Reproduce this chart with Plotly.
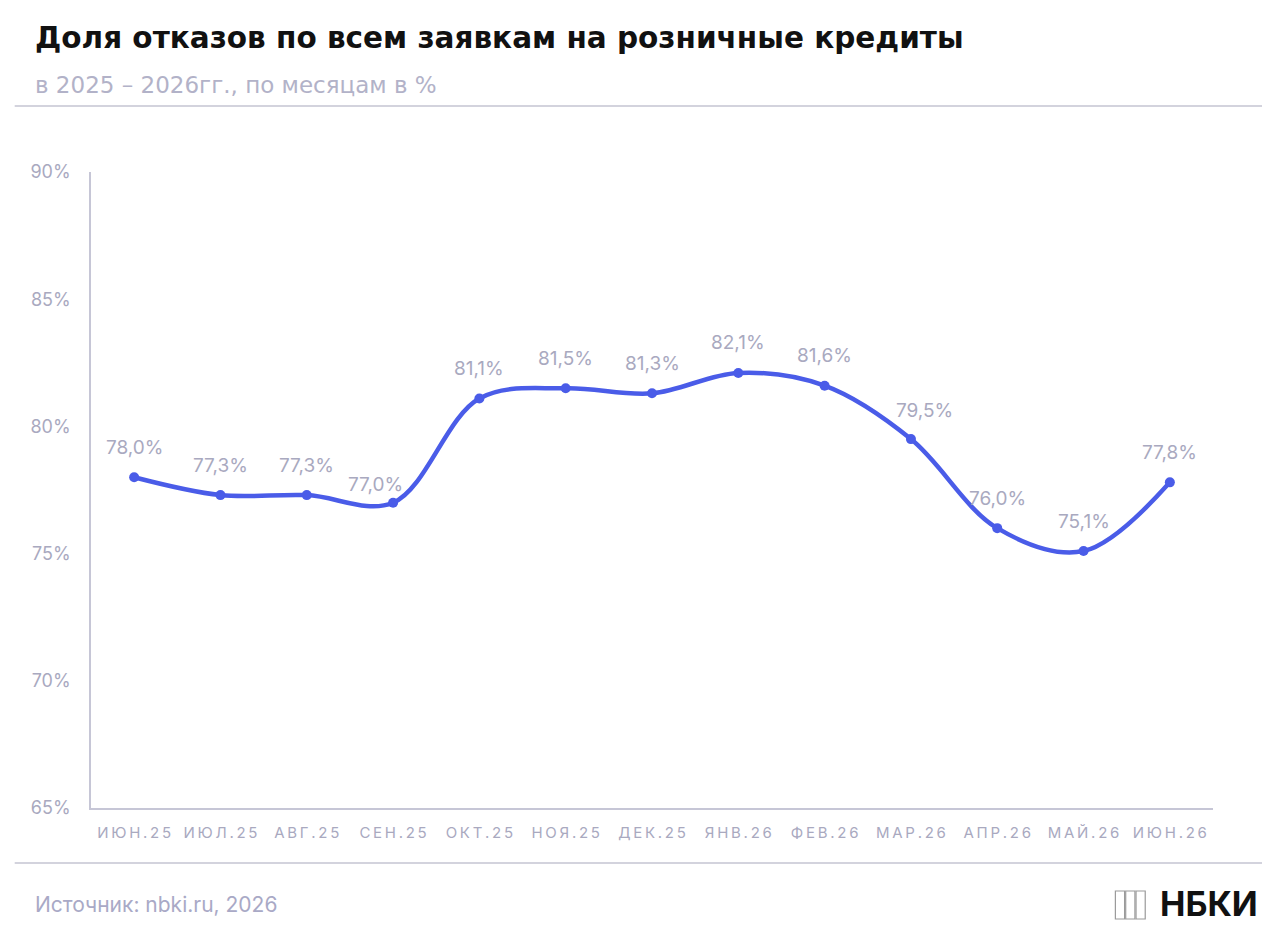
import plotly.graph_objects as go

# данные
months = ["ИЮН.25", "ИЮЛ.25", "АВГ.25", "СЕН.25", "ОКТ.25", "НОЯ.25", "ДЕК.25",
          "ЯНВ.26", "ФЕВ.26", "МАР.26", "АПР.26", "МАЙ.26", "ИЮН.26"]
reject_share = [78.0, 77.3, 77.3, 77.0, 81.1, 81.5, 81.3, 82.1, 81.6, 79.5, 76.0, 75.1, 77.8]
y_ticks = [65, 70, 75, 80, 85, 90]

LINE = "#4a5ce8"
GREY = "#a9a9bf"
AXIS = "#c6c6d6"

# подписи, которые в оригинале сдвинуты в сторону (пиксели)
label_nudge = {"СЕН.25": (-18, 18), "МАР.26": (14, 29)}

# разреженные подписи месяцев (как в оригинале)
tick_text = ["\u2009".join(m) for m in months]

fig = go.Figure()
fig.add_trace(go.Scatter(
    x=months, y=reject_share, mode="lines+markers",
    line=dict(color=LINE, width=4.5, shape="spline", smoothing=1.0),
    marker=dict(color=LINE, size=10),
    hoverinfo="skip", showlegend=False,
))

# подписи значений
for m, v in zip(months, reject_share):
    dx, dy = label_nudge.get(m, (0, 30))
    fig.add_annotation(x=m, y=v, text=f"{v:.1f}%".replace(".", ","),
                       showarrow=False, xshift=dx, yshift=dy,
                       font=dict(family="Inter", size=19, color=GREY))

fig.update_xaxes(
    type="category", range=[-0.5, len(months) - 0.5],
    tickvals=months, ticktext=tick_text,
    showline=True, linecolor=AXIS, linewidth=1.5, showgrid=False,
    ticks="", tickfont=dict(family="Inter", size=15, color=GREY),
    ticklabelstandoff=10, zeroline=False,
)
fig.update_yaxes(
    range=[65, 90], tickvals=y_ticks, ticktext=[f"{t}%" for t in y_ticks],
    showline=True, linecolor=AXIS, linewidth=1.5, showgrid=False,
    ticks="", tickfont=dict(family="Inter", size=18, color=GREY),
    ticklabelstandoff=15, zeroline=False,
)

# заголовок и подзаголовок
fig.add_annotation(xref="paper", yref="paper", x=-0.0517, y=1.2107,
                   xanchor="left", yanchor="middle", showarrow=False,
                   text="<b>Доля отказов по всем заявкам на розничные кредиты</b>",
                   font=dict(family="DejaVu Sans", size=29.5, color="#111111"))
fig.add_annotation(xref="paper", yref="paper", x=-0.0517, y=1.1368,
                   xanchor="left", yanchor="middle", showarrow=False,
                   text="в 2025 – 2026гг., по месяцам в %",
                   font=dict(family="DejaVu Sans", size=23, color="#b2b2c8"))
fig.add_annotation(xref="paper", yref="paper", x=-0.0517, y=-0.1525,
                   xanchor="left", yanchor="middle", showarrow=False,
                   text="Источник: nbki.ru, 2026",
                   font=dict(family="Inter", size=21, color="#a9a9c6"))
fig.add_annotation(xref="paper", yref="paper", x=1.041, y=-0.150,
                   xanchor="right", yanchor="middle", showarrow=False,
                   borderpad=0,
                   text="<b>НБКИ</b>",
                   font=dict(family="Inter", size=34, color="#111111"))

# разделители
fig.add_shape(type="line", xref="paper", yref="paper", x0=-0.068, x1=1.0437,
              y0=1.1038, y1=1.1038, line=dict(color="#c4c4d2", width=1.5))
fig.add_shape(type="line", xref="paper", yref="paper", x0=-0.068, x1=1.0437,
              y0=-0.0865, y1=-0.0865, line=dict(color="#c4c4d2", width=1.5))

# значок логотипа
for i in range(3):
    x0 = 0.913 + i * 0.0092
    fig.add_shape(type="rect", xref="paper", yref="paper",
                  x0=x0, x1=x0 + 0.0082, y0=-0.1745, y1=-0.1305,
                  line=dict(color="#9a9a9a", width=1.2), fillcolor="white")

fig.update_layout(
    width=1280, height=930,
    margin=dict(l=91, r=67, t=172, b=122),
    plot_bgcolor="white", paper_bgcolor="white",
    font=dict(family="Inter"),
)

# убрать отступ body, чтобы фигура занимала всё окно
fig.write_html("out.html", config={"displayModeBar": False},
               post_script="document.body.style.margin='0';")
